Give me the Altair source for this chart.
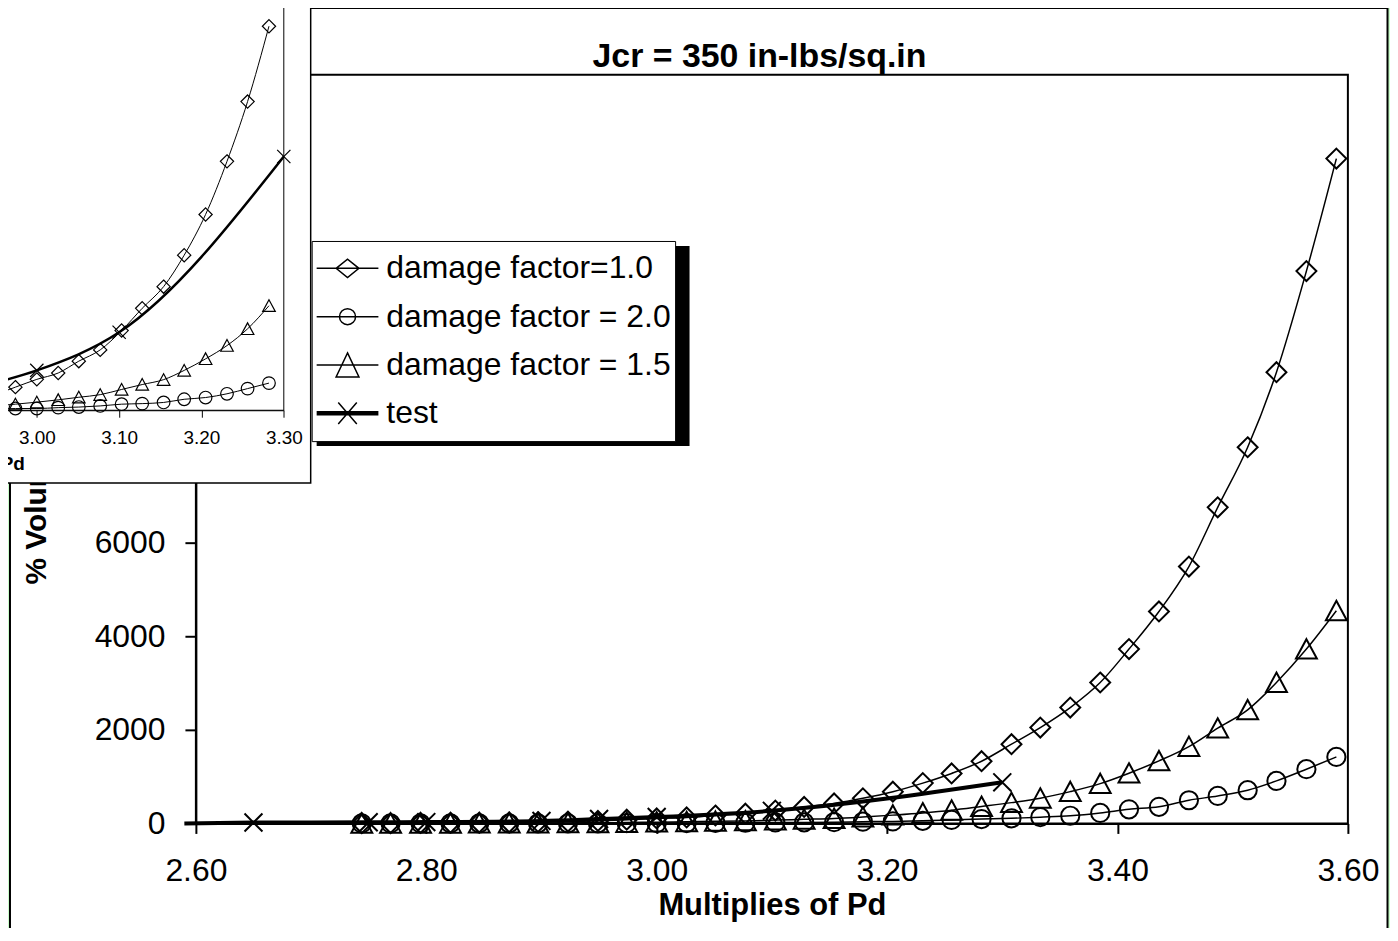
import altair as alt
import pandas as pd

# ---------------- data ----------------
x_model = [2.744, 2.769, 2.795, 2.821, 2.846, 2.872, 2.897, 2.923, 2.949, 2.974,
           3.000, 3.026, 3.051, 3.077, 3.103, 3.128, 3.154, 3.179, 3.205, 3.231,
           3.256, 3.282, 3.308, 3.333, 3.359, 3.385, 3.410, 3.436, 3.462, 3.487,
           3.513, 3.538, 3.564, 3.590]
df10 = [5, 8, 11, 15, 19, 25, 31, 40, 55, 80,
        107, 129, 170, 209, 276, 353, 428, 537, 678, 862,
        1069, 1330, 1694, 2049, 2477, 3012, 3726, 4530, 5490, 6755,
        8039, 9643, 11803, 14207]
df20 = [1, 1, 1, 2, 2, 2, 3, 3, 4, 6,
        6, 9, 11, 15, 21, 23, 27, 38, 44, 57,
        75, 94, 110, 135, 165, 225, 303, 356, 496, 588,
        710, 909, 1159, 1422]
df15 = [2, 3, 4, 5, 6, 7, 9, 11, 15, 21,
        28, 36, 45, 54, 72, 89, 106, 138, 178, 224,
        282, 362, 445, 539, 680, 851, 1074, 1337, 1643, 2036,
        2428, 3012, 3726, 4545]
test_x = [2.59, 2.65, 2.75, 2.80, 2.90, 2.95, 3.00, 3.10, 3.30]
test_y = [0, 20, 25, 30, 55, 95, 138, 270, 879]

names = ["damage factor=1.0", "damage factor = 2.0", "damage factor = 1.5", "test"]
main_x_ticks = [2.6, 2.8, 3.0, 3.2, 3.4, 3.6]
main_y_ticks = [0, 2000, 4000, 6000]          # higher ticks lie under the inset
inset_x_ticks = [3.0, 3.1, 3.2, 3.3]
title_text = "Jcr = 350 in-lbs/sq.in"

rows = []
for name, ys in zip(names[:3], [df10, df20, df15]):
    for xv, yv in zip(x_model, ys):
        rows.append({"series": name, "x": xv, "y": yv})
for xv, yv in zip(test_x, test_y):
    rows.append({"series": "test", "x": xv, "y": yv})
data = pd.DataFrame(rows)
one = pd.DataFrame({"k": [0]})

FONT = "Liberation Sans"
W, H = 1157, 752

# marker shapes (unit square paths)
DIAMOND = "M0,-1L1,0L0,1L-1,0Z"
TRIANGLE = "M0,-0.95L1,0.9L-1,0.9Z"
XMARK = "M-1,-1L1,1M-1,1L1,-1"
shapes = {names[0]: DIAMOND, names[1]: "circle", names[2]: TRIANGLE, names[3]: XMARK}
main_sizes = {names[0]: 400, names[1]: 335, names[2]: 441, names[3]: 324}
inset_sizes = {names[0]: 177, names[1]: 161, names[2]: 160, names[3]: 177}

legend_paths = [
    "M-1,0H1M-0.37,0L0,-0.3L0.37,0L0,0.3Z",
    "M-1,0H1M-0.26,0A0.26,0.26,0,1,0,0.26,0A0.26,0.26,0,1,0,-0.26,0",
    "M-1,0H1M0,-0.39L0.37,0.39L-0.37,0.39Z",
    "M-1,0H1M-1,0.05H1M-1,-0.05H1M-0.3,-0.35L0.3,0.35M-0.3,0.35L0.3,-0.35",
]

# ---------------- main chart ----------------
main_xs = alt.Scale(domain=[2.6, 3.6], nice=False, zero=False)
main_ys = alt.Scale(domain=[0, 16000], nice=False, zero=False)
main_xaxis = alt.Axis(orient="bottom", values=main_x_ticks, format=".2f", grid=False,
                      labelFont=FONT, labelFontSize=32, labelColor="black",
                      labelFlush=False, labelOverlap=False, labelPadding=22,
                      tickSize=10, tickWidth=2, tickColor="black",
                      domainColor="black", domainWidth=2,
                      title="Multiplies of Pd", titleFont=FONT, titleFontSize=31,
                      titleFontWeight="bold", titleColor="black", titlePadding=4,
                      zindex=0)
main_yaxis = alt.Axis(orient="left", values=main_y_ticks, format="d", grid=False,
                      labelFont=FONT, labelFontSize=32, labelColor="black",
                      labelFlush=False, labelOverlap=False, labelPadding=20,
                      tickSize=11, tickWidth=2, tickColor="black",
                      domainColor="black", domainWidth=2,
                      title="% Volume Increase", titleFont=FONT, titleFontSize=30,
                      titleFontWeight="bold", titleColor="black",
                      titleX=-160, titleY=376, titleAngle=270,
                      titleBaseline="middle", titleAlign="center",
                      zindex=0)

mx = alt.X("x:Q", scale=main_xs, axis=main_xaxis)
my = alt.Y("y:Q", scale=main_ys, axis=main_yaxis)

main_layers = []
for name in names:
    sw = 4 if name == "test" else 1.5
    main_layers.append(
        alt.Chart(data).transform_filter(alt.datum.series == name)
        .mark_line(color="black", strokeWidth=sw, interpolate="monotone")
        .encode(x=mx, y=my)
    )
for name in names:
    main_layers.append(
        alt.Chart(data).transform_filter(alt.datum.series == name)
        .transform_filter(alt.datum.x >= 2.6)
        .mark_point(shape=shapes[name], size=main_sizes[name], filled=False,
                    stroke="black", strokeWidth=2, opacity=1)
        .encode(x=mx, y=my)
    )

legend = alt.Legend(orient="none", legendX=116.3, legendY=167, title=None,
                    fillColor="white", strokeColor="black", padding=4,
                    labelFont=FONT, labelFontSize=32, labelColor="black",
                    labelLimit=600, labelOffset=7,
                    labelExpr="datum.label + '\u00a0'",
                    rowPadding=1.5, clipHeight=47,
                    symbolSize=3844, symbolStrokeWidth=1.5,
                    symbolStrokeColor="black", symbolFillColor="transparent",
                    symbolOpacity=1)
main_layers.append(
    alt.Chart(data).mark_point(opacity=0, filled=False, color="black")
    .encode(x=mx, y=my,
            shape=alt.Shape("series:N",
                            scale=alt.Scale(domain=names, range=legend_paths),
                            legend=legend))
)
main = alt.layer(*main_layers)

# ---------------- decoration ----------------
frame_green = alt.Chart(one).mark_rect(fill="transparent", stroke="#CCFFCC", strokeWidth=20).encode(
    x=alt.value(-196.7), x2=alt.value(1206.8), y=alt.value(-77), y2=alt.value(890))
frame_black = alt.Chart(one).mark_rect(fill="transparent", stroke="black", strokeWidth=2).encode(
    x=alt.value(-186.7), x2=alt.value(1196.8), y=alt.value(-67), y2=alt.value(880))
shadow = alt.Chart(one).mark_rect(color="black").encode(
    x=alt.value(121.3), x2=alt.value(495.8), y=alt.value(172), y2=alt.value(373))
title = alt.Chart(one).mark_text(text=title_text, font=FONT, fontSize=34, fontWeight="bold",
                                 color="black", align="center", baseline="alphabetic").encode(
    x=alt.value(566), y=alt.value(-8))

# ---------------- inset ----------------
inset_xs = alt.Scale(domain=[2.5, 3.3], range=[-573.2, 88.3], nice=False, zero=False)
inset_ys = alt.Scale(domain=[0, 1500], range=[337, -98], nice=False, zero=False)
inset_xaxis = alt.Axis(orient="bottom", offset=-415, values=inset_x_ticks, format=".2f",
                       grid=False, labelFont=FONT, labelFontSize=19, labelColor="black",
                       labelFlush=False, labelOverlap=False, labelPadding=11,
                       tickSize=7, tickWidth=1, tickColor="black",
                       domainColor="black", domainWidth=1,
                       title="Multiplies of Pd", titleFont=FONT, titleFontSize=19,
                       titleFontWeight="bold", titleColor="black", titlePadding=8,
                       zindex=1)
ix = alt.X("x:Q", scale=inset_xs, axis=inset_xaxis)
iy = alt.Y("y:Q", scale=inset_ys, axis=None)

inset_bg = alt.Chart(one).mark_rect(fill="white", stroke="black", strokeWidth=1.5).encode(
    x=alt.value(-196.7), x2=alt.value(115.3), y=alt.value(-73), y2=alt.value(410))
inset_frame = alt.Chart(one).mark_rect(fill="transparent", stroke="black", strokeWidth=1).encode(
    x=alt.XDatum(2.5, type="quantitative", scale=inset_xs, axis=inset_xaxis),
    x2=alt.X2Datum(3.3),
    y=alt.YDatum(0, type="quantitative", scale=inset_ys, axis=None),
    y2=alt.Y2Datum(1500))

inset_layers = [inset_bg, inset_frame]
for name in names:
    sw = 2.5 if name == "test" else 1
    inset_layers.append(
        alt.Chart(data).transform_filter(alt.datum.series == name)
        .transform_filter(alt.datum.x <= 3.301)
        .mark_line(color="black", strokeWidth=sw, interpolate="monotone")
        .encode(x=ix, y=iy)
    )
for name in names:
    inset_layers.append(
        alt.Chart(data).transform_filter(alt.datum.series == name)
        .transform_filter((alt.datum.x <= 3.301) & (alt.datum.x >= 2.6))
        .mark_point(shape=shapes[name], size=inset_sizes[name], filled=False,
                    stroke="black", strokeWidth=1.2, opacity=1)
        .encode(x=ix, y=iy)
    )
inset = alt.layer(*inset_layers)

chart = alt.layer(frame_green, frame_black, title, main, shadow, inset).resolve_scale(
    x="independent", y="independent"
).properties(
    width=W, height=H,
    autosize=alt.AutoSizeParams(type="none"),
    padding={"left": 188.7, "top": 65, "right": 42.3, "bottom": 103},
).configure(background="white").configure_view(stroke="black", strokeWidth=2)

chart.save("out.html", embed_options={"renderer": "svg", "actions": False})
